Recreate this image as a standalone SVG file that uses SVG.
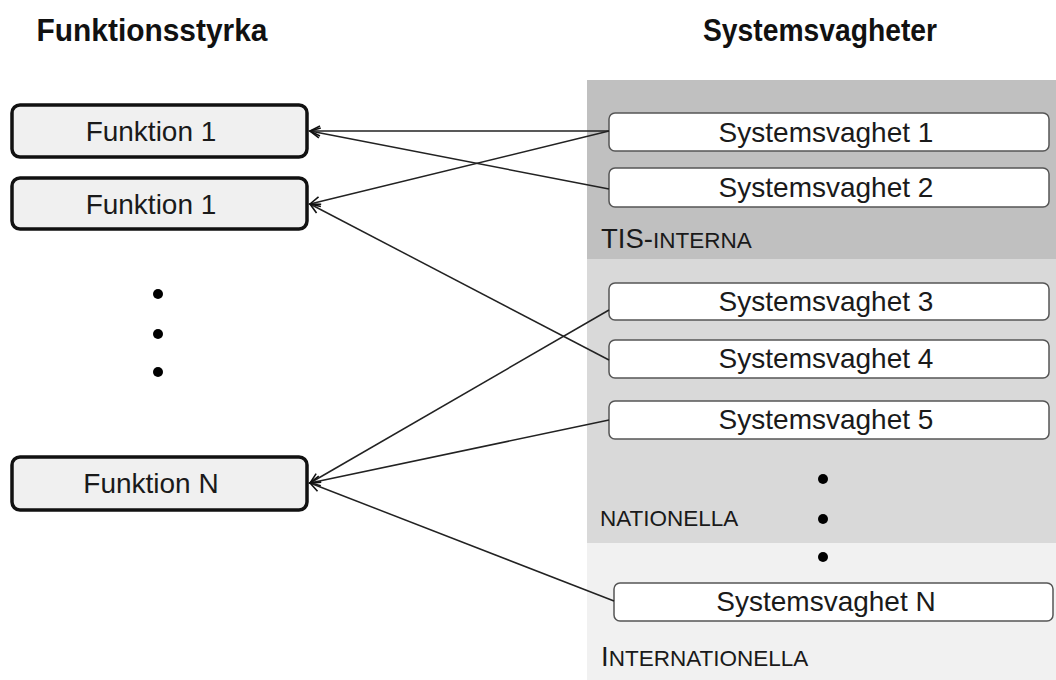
<svg xmlns="http://www.w3.org/2000/svg" width="1056" height="680" viewBox="0 0 1056 680">
<defs>
<marker id="arr" markerWidth="14" markerHeight="12" refX="11" refY="6" orient="auto" markerUnits="userSpaceOnUse">
<path d="M1,1 L11,6 L1,11" fill="none" stroke="#111" stroke-width="1.6"/>
</marker>
<style>
.hdr{font-family:"Liberation Sans",Arial,sans-serif;font-weight:bold;font-size:32px;fill:#111;text-anchor:middle}
.fn rect{fill:#f0f0f0;stroke:#111;stroke-width:3.5}
.sv rect{fill:#fff;stroke:#555;stroke-width:1.5}
.lbl{font-family:"Liberation Sans",Arial,sans-serif;font-size:28px;fill:#1a1a1a;text-anchor:middle}
.zone{font-family:"Liberation Sans",Arial,sans-serif;font-size:22.5px;fill:#1a1a1a}
.big{font-size:27.5px}
.con line{stroke:#222;stroke-width:1.5;marker-end:url(#arr)}
.dot{fill:#000}
</style>
</defs>
<rect width="1056" height="680" fill="#fff"/>
<g id="bands">
<rect x="587" y="80" width="469" height="179" fill="#c0c0c0"/>
<rect x="587" y="259" width="469" height="284" fill="#d9d9d9"/>
<rect x="587" y="543" width="469" height="137" fill="#f1f1f1"/>
</g>
<g id="headers">
<text class="hdr" x="152" y="41" textLength="231" lengthAdjust="spacingAndGlyphs">Funktionsstyrka</text>
<text class="hdr" x="820" y="41" textLength="234" lengthAdjust="spacingAndGlyphs">Systemsvagheter</text>
</g>
<g id="zones">
<text class="zone" x="601" y="248"><tspan class="big">TIS-</tspan>INTERNA</text>
<text class="zone" x="600" y="526">NATIONELLA</text>
<text class="zone" x="601" y="666"><tspan class="big">I</tspan>NTERNATIONELLA</text>
</g>
<g id="f1" class="fn"><rect x="12" y="105" width="295" height="52" rx="8"/><text class="lbl" x="151" y="141">Funktion 1</text></g>
<g id="f2" class="fn"><rect x="12" y="178" width="295" height="51" rx="8"/><text class="lbl" x="151" y="214">Funktion 1</text></g>
<g id="fN" class="fn"><rect x="12" y="457" width="295" height="53" rx="8"/><text class="lbl" x="151" y="493">Funktion N</text></g>
<g id="fdots">
<circle class="dot" cx="158" cy="294" r="5"/>
<circle class="dot" cx="158" cy="334" r="5"/>
<circle class="dot" cx="158" cy="372" r="5"/>
</g>
<g id="sv1" class="sv"><rect x="609" y="113" width="440" height="38" rx="6"/><text class="lbl" x="826" y="142">Systemsvaghet 1</text></g>
<g id="sv2" class="sv"><rect x="609" y="168" width="440" height="39" rx="6"/><text class="lbl" x="826" y="197">Systemsvaghet 2</text></g>
<g id="sv3" class="sv"><rect x="609" y="283" width="440" height="37" rx="6"/><text class="lbl" x="826" y="311">Systemsvaghet 3</text></g>
<g id="sv4" class="sv"><rect x="609" y="340" width="440" height="38" rx="6"/><text class="lbl" x="826" y="368">Systemsvaghet 4</text></g>
<g id="sv5" class="sv"><rect x="609" y="401" width="440" height="38" rx="6"/><text class="lbl" x="826" y="429">Systemsvaghet 5</text></g>
<g id="svN" class="sv"><rect x="614" y="583" width="439" height="38" rx="6"/><text class="lbl" x="826" y="611">Systemsvaghet N</text></g>
<g id="sdots">
<circle class="dot" cx="823" cy="479" r="5"/>
<circle class="dot" cx="823" cy="519" r="5"/>
<circle class="dot" cx="823" cy="557" r="5"/>
</g>
<g id="connectors" class="con">
<line x1="609" y1="131" x2="310" y2="131"/>
<line x1="609" y1="189" x2="310" y2="131"/>
<line x1="609" y1="131" x2="310" y2="204"/>
<line x1="609" y1="360" x2="310" y2="204"/>
<line x1="609" y1="310" x2="310" y2="483"/>
<line x1="609" y1="420" x2="310" y2="483"/>
<line x1="614" y1="601" x2="310" y2="483"/>
</g>
</svg>
